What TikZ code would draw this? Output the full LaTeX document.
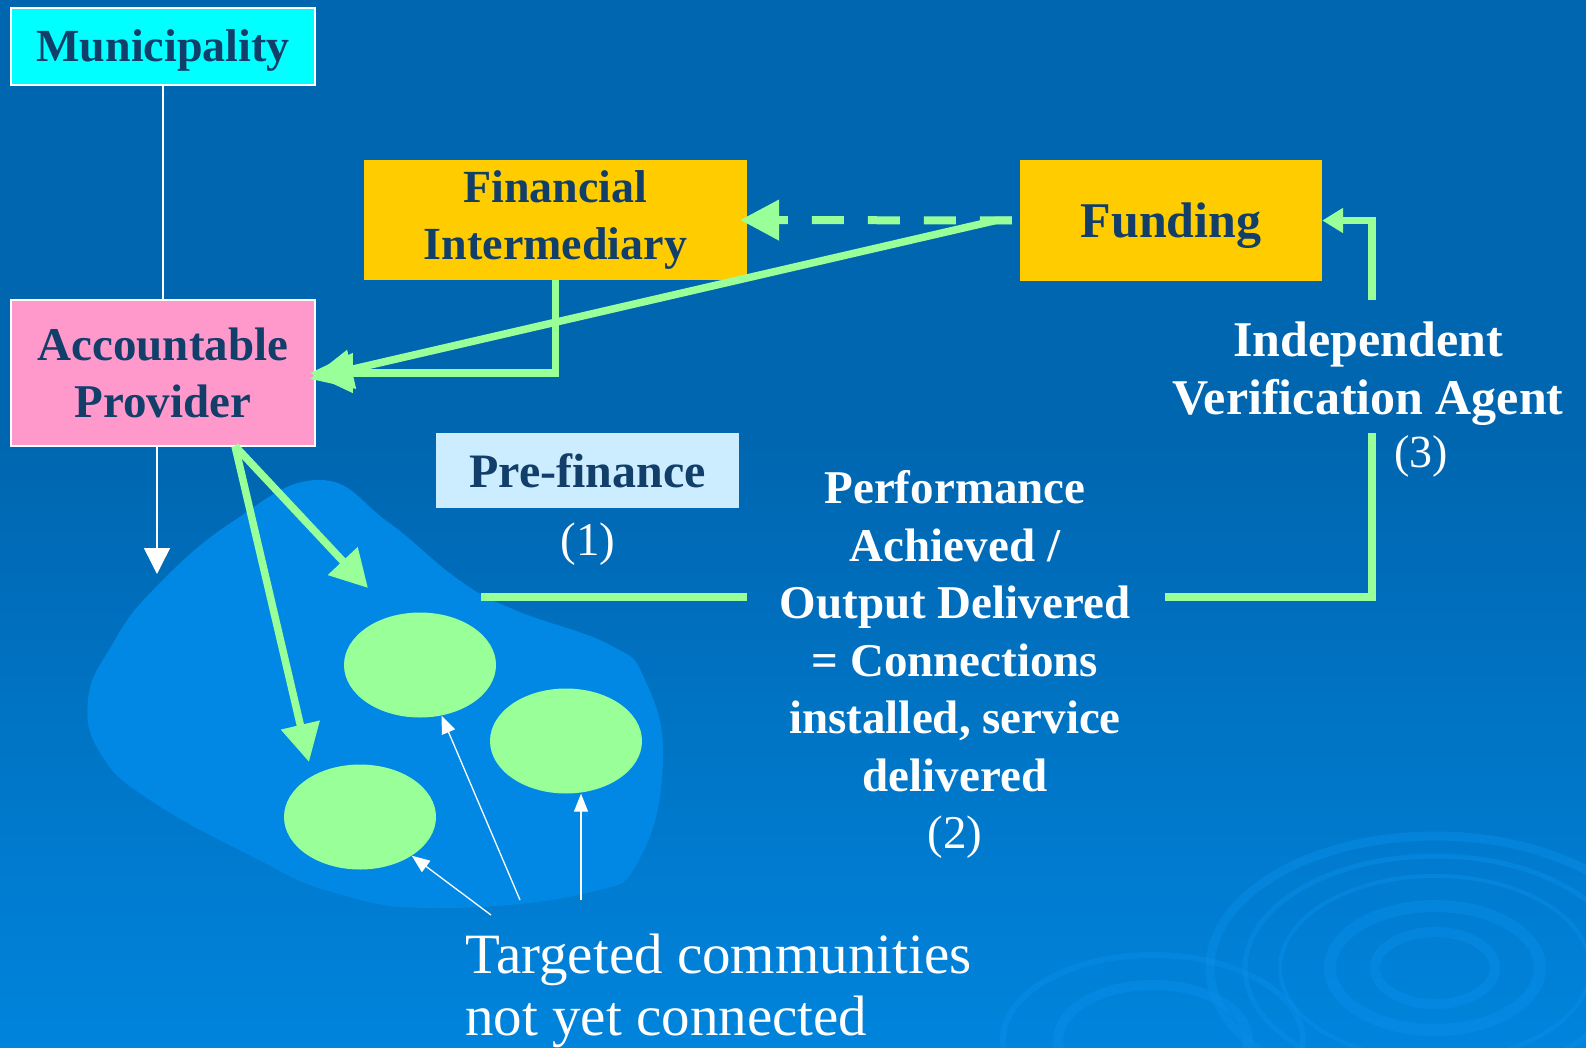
\documentclass[tikz,border=0pt]{standalone}
\usepackage{fontspec}
\setmainfont{Liberation Serif}
\usetikzlibrary{arrows.meta,shapes.geometric}
\definecolor{bgtop}{HTML}{0066B0}
\definecolor{bgbot}{HTML}{0084DC}
\definecolor{blobc}{HTML}{0088E4}
\definecolor{lgreen}{HTML}{99FF99}
\definecolor{navy}{HTML}{123E6A}
\definecolor{mcyan}{HTML}{00FFFF}
\definecolor{mpink}{HTML}{FF99CC}
\definecolor{myellow}{HTML}{FFCC00}
\definecolor{lblue}{HTML}{CCECFF}
\definecolor{ripplec}{HTML}{0A8FEA}
\begin{document}
\begin{tikzpicture}[x=1pt,y=-1pt,
  boxnode/.style={inner sep=0pt, text=navy, align=center},
  wtext/.style={inner sep=0pt, text=white, align=center},
  grn/.style={draw=lgreen, line width=7.5pt},
  wline/.style={draw=white, line width=1.5pt},
  comm/.style={ellipse, fill=lgreen, minimum width=152pt, minimum height=105pt, inner sep=0pt},
  ring/.style={draw=ripplec, opacity=0.45},
]
\useasboundingbox (0,0) rectangle (1586,1048);
% background
\fill[bgtop] (0,0) rectangle (1586,1048);
\shade[top color=bgtop, bottom color=bgbot] (0,440) rectangle (1586,1048);
\begin{scope}
\clip (0,0) rectangle (1586,1048);
\draw[ring, line width=9pt] (1435,968) ellipse [x radius=225, y radius=132];
\draw[ring, line width=5pt] (1435,968) ellipse [x radius=190, y radius=112];
\draw[ring, line width=4pt] (1435,968) ellipse [x radius=155, y radius=92];
\draw[ring, line width=12pt] (1435,968) ellipse [x radius=105, y radius=62];
\draw[ring, line width=10pt] (1435,968) ellipse [x radius=60, y radius=36];
\draw[ring, line width=6pt] (1153,1040) ellipse [x radius=150, y radius=85];
\draw[ring, line width=10pt] (1153,1040) ellipse [x radius=95, y radius=55];
\end{scope}
% blob
\fill[blobc] plot[smooth cycle, tension=0.75] coordinates {
 (319,480) (388,522) (459,580) (515,610) (610,645) (645,680) (663,760)
 (640,858) (587,893) (434,908) (332,892) (255,858) (153,802) (102,756)
 (88,700) (112,645) (153,590) (232,522)};

% boxes
\node[boxnode, fill=mcyan, draw=white, line width=1.5pt, minimum width=304pt, minimum height=77pt,
  text depth=1pt, font={\fontsize{46pt}{57pt}\selectfont\bfseries}] (mun) at (163,46.5) {Municipality};
\node[boxnode, fill=mpink, draw=white, line width=1.5pt, minimum width=304pt, minimum height=146pt,
  font={\fontsize{47pt}{57pt}\selectfont\bfseries}] (ap) at (163,373) {Accountable\\Provider};
\node[boxnode, fill=myellow, minimum width=383pt, minimum height=120pt,
  font={\fontsize{46pt}{57pt}\selectfont\bfseries}] (fi) at (555.5,220) {Financial\\Intermediary};
\node[boxnode, fill=myellow, minimum width=302pt, minimum height=121pt,
  text depth=1pt, font={\fontsize{50pt}{60pt}\selectfont\bfseries}] (fund) at (1171,220.5) {Funding};
\node[boxnode, fill=lblue, minimum width=303pt, minimum height=75pt,
  font={\fontsize{48pt}{58pt}\selectfont\bfseries}] (pre) at (587.5,470.5) {Pre-finance};

% white texts
\node[wtext, anchor=base, font={\fontsize{47pt}{57pt}\selectfont}] (one) at (588,555) {(1)};
\node[wtext, anchor=north, font={\fontsize{47pt}{57.5pt}\selectfont\bfseries}] (perf) at (955,470.5)
  {Performance\\Achieved /\\Output Delivered\\= Connections\\installed, service\\delivered\\{\mdseries (2)}};
\node[wtext, anchor=north, font={\fontsize{50pt}{58pt}\selectfont\bfseries}] (iva) at (1368,322)
  {Independent\\Verification Agent};
\node[wtext, anchor=base, font={\fontsize{46pt}{56pt}\selectfont}] (three) at (1421,467) {(3)};
\node[wtext, anchor=north west, align=left, font={\fontsize{57pt}{62pt}\selectfont}] (target) at (465,934)
  {Targeted communities\\not yet connected};

% communities
\node[comm] (e1) at (420,665) {};
\node[comm] (e2) at (566,741) {};
\node[comm] (e3) at (360,817) {};

% coordinates
\coordinate (apout) at (235,446);
\coordinate (t1) at (368,588);
\coordinate (t2) at (309,762);
\coordinate (wtip) at (157,574);
\coordinate (pl1) at (481,597);
\coordinate (pl2) at (747,597);
\coordinate (pr1) at (1165,597);
\coordinate (pr2) at (1372,433);
\coordinate (pr3) at (1372,300);
\coordinate (s1) at (491,915);
\coordinate (s2) at (520,900);
\coordinate (s3) at (581,900);

% white connectors
\draw[wline] (mun.south) -- (ap.north);
\draw[wline, -{Triangle[length=26pt,width=26pt]}] ([xshift=-6pt]ap.south) -- (wtip);
\draw[wline, line width=1.3pt, -{Triangle[length=18pt,width=14pt]}] (s1) -- (e3);
\draw[wline, line width=1.3pt, -{Triangle[length=18pt,width=14pt]}] (s2) -- (e1);
\draw[wline, line width=1.3pt, -{Triangle[length=18pt,width=14pt]}] (s3) -- (s3 |- e2.south);

% green connectors
\draw[grn, line width=8pt, dash pattern=on 32pt off 24pt, -{Triangle[length=39pt,width=39pt]}]
  ([xshift=-8pt]fund.west) -- ([xshift=-7pt]fi.east);
\draw[grn, -{Triangle[length=43pt,width=38pt]}] ([xshift=-8pt]fund.west) -- ++(-16,0) -- ([xshift=-6pt,yshift=-6pt]ap.east);
\draw[grn, -{Triangle[length=43pt,width=38pt]}] (fi.south) |- ([xshift=-6pt]ap.east);
\draw[grn, -{Triangle[length=37pt,width=39pt]}] (apout) -- (t1);
\draw[grn, -{Triangle[length=38pt,width=38pt]}] (apout) -- (t2);
\draw[grn] (pl1) -- (pl2);
\draw[grn] (pr1) -| (pr2);
\draw[grn, -{Triangle[length=21pt,width=24pt]}] (pr3) |- (fund.east);
\end{tikzpicture}
\end{document}
